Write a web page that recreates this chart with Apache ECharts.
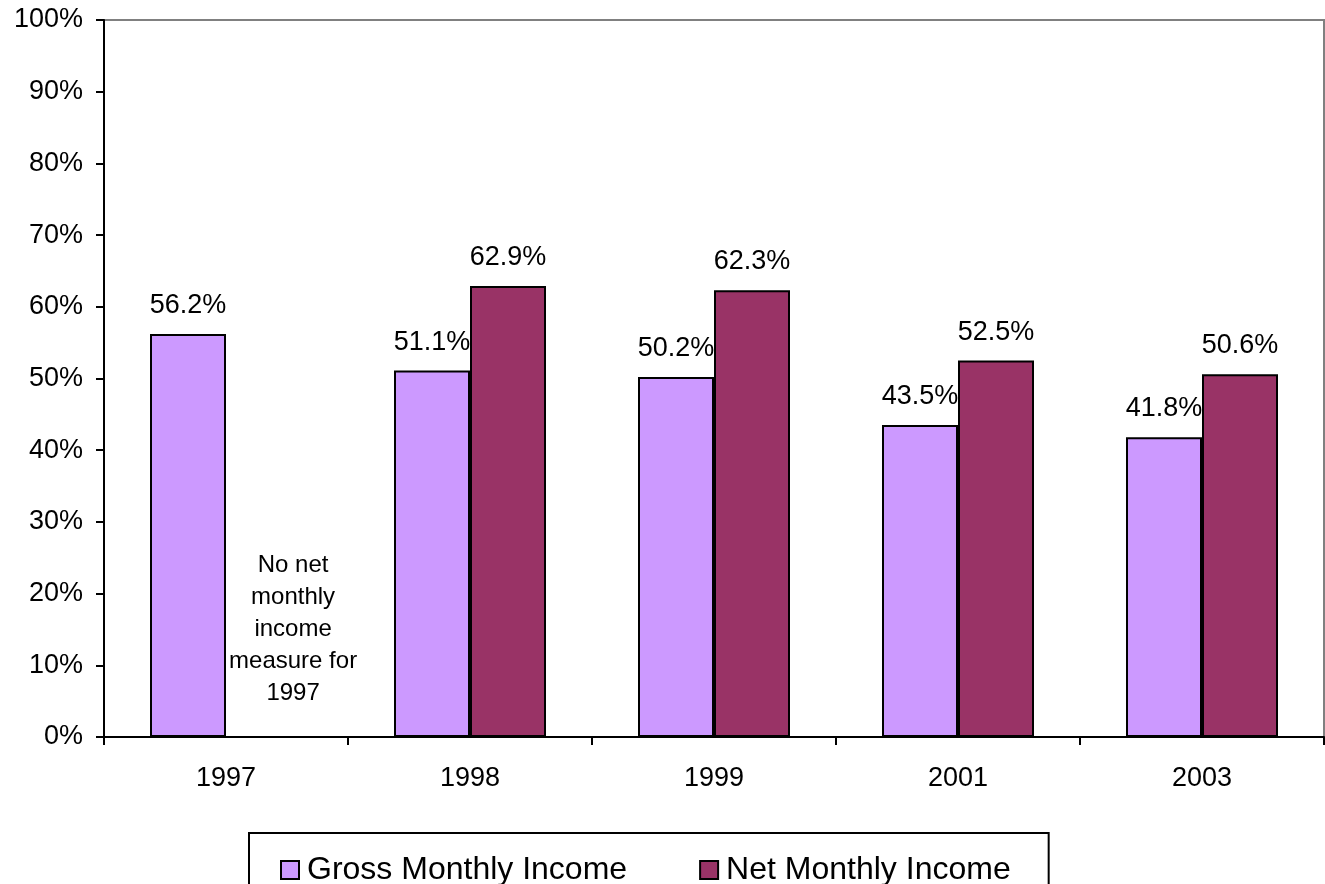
<!DOCTYPE html>
<html><head><meta charset="utf-8">
<script src="https://cdn.jsdelivr.net/npm/echarts@6/dist/echarts.min.js"></script>
<style>html,body{margin:0;padding:0;background:#fff}#c{width:1325px;height:884px}</style>
</head><body><div id="c"></div>
<script>
const categories = ['1997', '1998', '1999', '2001', '2003'];
const grossValues = [56.2, 51.1, 50.2, 43.5, 41.8];
const netValues = [null, 62.9, 62.3, 52.5, 50.6];
const seriesNames = ['Gross Monthly Income', 'Net Monthly Income'];
const annotationLines = ['No net', 'monthly', 'income', 'measure for', '1997'];
const annotationAnchor = { category: '1997', value: 15 };

const FONT = 'Liberation Sans, Arial, sans-serif';
const chart = echarts.init(document.getElementById('c'), null, { renderer: 'canvas' });
const labelStyle = {
  show: true, position: 'top', distance: 15, color: '#000',
  fontFamily: FONT, fontSize: 27,
  formatter: p => p.value == null ? '' : p.value.toFixed(1) + '%'
};
chart.setOption({
  animation: false,
  backgroundColor: '#fff',
  grid: { left: 104, right: 1, top: 20, bottom: 147, show: true, borderColor: '#808080', borderWidth: 2, containLabel: false },
  xAxis: {
    type: 'category', data: categories,
    axisLine: { lineStyle: { color: '#000', width: 2 } },
    axisTick: { show: true, length: 8, lineStyle: { color: '#000', width: 2 } },
    axisLabel: { color: '#000', fontFamily: FONT, fontSize: 27, margin: 28 },
    z: 10
  },
  yAxis: {
    type: 'value', min: 0, max: 100, interval: 10,
    axisLine: { show: true, lineStyle: { color: '#000', width: 2 } },
    axisTick: { show: true, length: 8, lineStyle: { color: '#000', width: 2 } },
    axisLabel: { color: '#000', fontFamily: FONT, fontSize: 27, margin: 21, formatter: '{value}%' },
    splitLine: { show: false },
    z: 10
  },
  legend: {
    left: 249, top: 833,
    padding: [21, 38, 40, 31],
    borderColor: '#000', borderWidth: 2,
    itemWidth: 18, itemHeight: 18, itemGap: 72,
    icon: 'rect',
    textStyle: { color: '#000', fontFamily: FONT, fontSize: 32, padding: [0, 0, 0, 3] },
    data: seriesNames
  },
  series: [
    { name: seriesNames[0], type: 'bar', data: grossValues, barWidth: 76, barGap: '0%',
      itemStyle: { color: '#CC99FF', borderColor: '#000', borderWidth: 2 }, label: labelStyle },
    { name: seriesNames[1], type: 'bar', data: netValues, barWidth: 76,
      itemStyle: { color: '#993366', borderColor: '#000', borderWidth: 2 }, label: labelStyle }
  ]
});
const catPx = chart.convertToPixel({ xAxisIndex: 0 }, annotationAnchor.category);
const valPx = chart.convertToPixel({ yAxisIndex: 0 }, annotationAnchor.value);
const catWidth = chart.convertToPixel({ xAxisIndex: 0 }, categories[1]) - catPx;
chart.setOption({
  graphic: [{
    type: 'text', x: catPx + catWidth * 0.275, y: valPx,
    style: {
      text: annotationLines.join('\n'), fill: '#000', fontFamily: FONT, fontSize: 24,
      lineHeight: 32, align: 'center', verticalAlign: 'middle'
    }
  }]
});
</script></body></html>
